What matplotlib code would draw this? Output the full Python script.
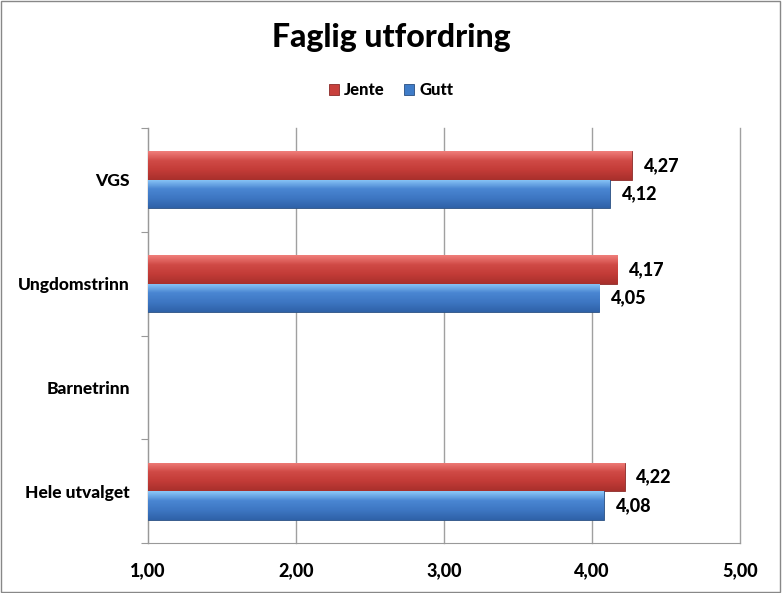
import numpy as np
import matplotlib.pyplot as plt
from matplotlib.colors import LinearSegmentedColormap
from matplotlib.patches import Rectangle

plt.rcParams['font.family'] = ['Lato', 'DejaVu Sans']
plt.rcParams['font.weight'] = 'bold'

# data (bottom to top)
categories = ['Hele utvalget', 'Barnetrinn', 'Ungdomstrinn', 'VGS']
jente = [4.22, np.nan, 4.17, 4.27]
gutt = [4.08, np.nan, 4.05, 4.12]
x_ticks = [1, 2, 3, 4, 5]

red_cmap = LinearSegmentedColormap.from_list(
    'red', ['#a8302c', '#c23b37', '#d04a46', '#f07e7a'])
blue_cmap = LinearSegmentedColormap.from_list(
    'blue', ['#2f62a8', '#3d76c2', '#4a86d2', '#8cc8f8'])

W = 'black'

fig = plt.figure(figsize=(7.82, 5.93), dpi=100)
ax = fig.add_axes([0.1893, 0.0843, 0.757, 0.6998])

y = np.arange(len(categories))
h = 0.275
bars_j = ax.barh(y + h / 2, np.array(jente) - 1, left=1, height=h,
                 color='#c8403c', edgecolor='#8a2a28', linewidth=0.6, zorder=3)
bars_g = ax.barh(y - h / 2, np.array(gutt) - 1, left=1, height=h,
                 color='#3f7cc8', edgecolor='#2a4f80', linewidth=0.6, zorder=3)

# gradient fill clipped to each bar
grad = np.linspace(0, 1, 64).reshape(-1, 1)
for bars, cmap in ((bars_j, red_cmap), (bars_g, blue_cmap)):
    for b in bars:
        if np.isnan(b.get_width()):
            continue
        x0, y0 = b.get_x(), b.get_y()
        im = ax.imshow(grad, cmap=cmap, aspect='auto', origin='lower',
                       extent=[x0, x0 + b.get_width(), y0, y0 + b.get_height()],
                       zorder=3.5)
        im.set_clip_path(b)

# value labels
for vals, off in ((jente, h / 2), (gutt, -h / 2)):
    for yi, v in zip(y, vals):
        if np.isnan(v):
            continue
        ax.text(v + 0.08, yi + off, f'{v:.2f}'.replace('.', ','),
                va='center', ha='left', fontsize=13, fontweight=W)

ax.set_xlim(1, 5)
ax.set_ylim(-0.5, len(categories) - 0.5)
ax.set_xticks(x_ticks)
ax.set_xticklabels([f'{t:.2f}'.replace('.', ',') for t in x_ticks],
                   fontsize=13, fontweight=W)
ax.set_yticks(np.arange(len(categories) + 1) - 0.5, minor=False)
ax.set_yticklabels([])
ax.set_yticks(y, minor=True)
ax.set_yticklabels(categories, minor=True, fontsize=12.5, fontweight=W)
ax.tick_params(axis='y', which='minor', length=0, pad=13)
ax.tick_params(axis='y', which='major', length=5, color='#999999')
ax.tick_params(axis='x', length=0, pad=14)

ax.grid(axis='x', color='#a0a0a0', linewidth=1, zorder=0)
for gl in ax.get_xgridlines():
    gl.set_clip_on(False)
for s in ('top', 'right'):
    ax.spines[s].set_visible(False)
for s in ('left', 'bottom'):
    ax.spines[s].set_color('#999999')

fig.text(0.5, 0.936, 'Faglig utfordring', ha='center', va='center',
         fontsize=23, fontweight=W)

leg = fig.legend([bars_j, bars_g], ['Jente', 'Gutt'], loc='center',
                 bbox_to_anchor=(0.5, 0.848), ncol=2, frameon=False,
                 fontsize=12, handlelength=0.6, handleheight=0.6,
                 handletextpad=0.3, columnspacing=1.2)
for t in leg.get_texts():
    t.set_fontweight(W)

fig.patches.append(Rectangle((0.001, 0.001), 0.997, 0.997, transform=fig.transFigure,
                             fill=False, edgecolor='#888888', linewidth=1))

fig.savefig('out.png', dpi=100)
